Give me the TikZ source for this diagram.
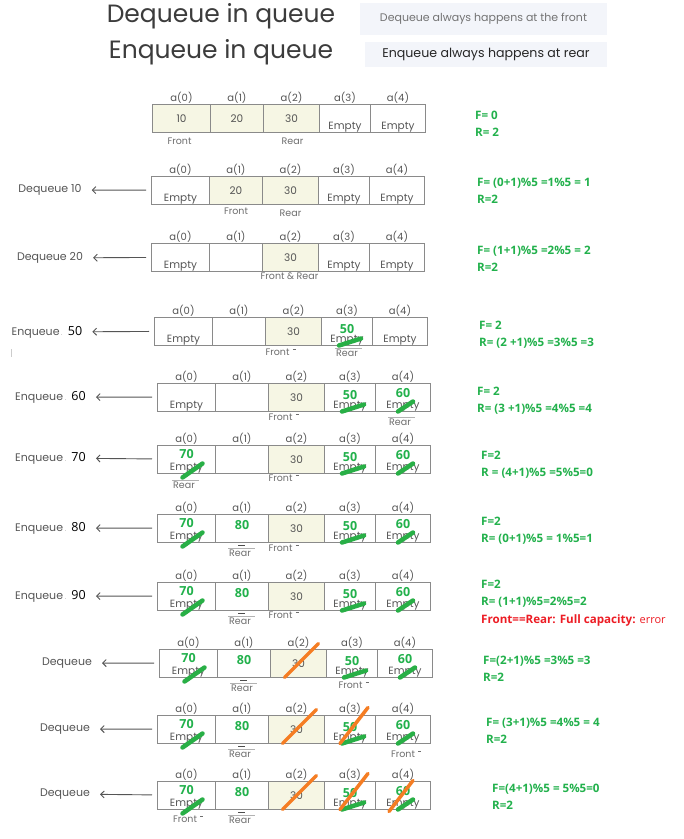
\documentclass[tikz,border=0pt]{standalone}
\usepackage{fontspec}
\setmainfont{Poppins}
\newfontfamily\calcfont{Open Sans}
\usetikzlibrary{positioning,arrows.meta,calc,backgrounds}

\definecolor{calcgreen}{RGB}{34,177,76}
\definecolor{errred}{RGB}{237,28,36}
\definecolor{hlfill}{RGB}{246,246,228}
\definecolor{notefill}{RGB}{243,245,250}
\definecolor{titlegray}{RGB}{60,60,60}
\definecolor{labgray}{RGB}{85,85,85}
\definecolor{taggray}{RGB}{110,110,110}
\definecolor{cellgray}{RGB}{138,138,138}
\definecolor{inkgreen}{RGB}{40,175,70}
\definecolor{inkorange}{RGB}{245,125,35}

\newcommand\opnum[1]{{\calcfont\fontsize{12.5}{14}\selectfont\color{black}#1}}
\newcommand\frontmark{Front\rlap{\hspace{3.5pt}\raisebox{6pt}{\rule{3pt}{0.6pt}}}}

\begin{document}
\begin{tikzpicture}[
  x=1pt, y=-1pt,
  every node/.style={inner sep=0pt},
  cell/.style={draw=cellgray, line width=1pt, minimum height=27.5pt,
               anchor=north west},
  idx/.style={font=\fontsize{10}{12}\selectfont, text=labgray},
  txt/.style={font=\fontsize{10.5}{12}\selectfont, text=labgray, anchor=base},
  val/.style={font=\calcfont\bfseries\fontsize{12.5}{14}\selectfont,
              text=calcgreen, anchor=base},
  tag/.style={font=\fontsize{9.5}{11}\selectfont, text=taggray},
  op/.style={font=\fontsize{11}{13}\selectfont, text=labgray},
  fr/.style={font=\calcfont\bfseries\fontsize{11.6}{17}\selectfont,
             text=calcgreen, align=left, anchor=north west},
  note/.style={fill=notefill, inner sep=0pt},
  arr/.style={{Straight Barb[length=3.5pt,width=7pt]}-, draw=labgray,
              line width=0.9pt, shorten <=10pt, shorten >=5pt},
  ink/.style={draw=inkgreen, line width=4.5pt, line cap=round},
  cross/.style={draw=inkorange, line width=3.5pt, line cap=round},
  bar/.style={draw=gray!60, line width=0.6pt},
  nub/.style={draw=black!70, line width=1pt}
]
\useasboundingbox (0,0) rectangle (684,839);

%% --- Heading -------------------------------------------------
\node[font=\fontsize{25}{30}\selectfont, text=titlegray] (ttl1) at (221,16)
     {Dequeue in queue};
\node[font=\fontsize{25}{30}\selectfont, text=titlegray] (ttl2) at (221,52)
     {Enqueue in queue};
\node[note, minimum width=247pt, minimum height=32pt,
      font=\fontsize{11}{12}\selectfont, text=black!55] (note1) at (483.5,19)
     {Dequeue always happens at the front};
\node[note, minimum width=242pt, minimum height=25pt,
      font=\fontsize{12.6}{14}\selectfont, text=black!85] (note2) at (486,54.5)
     {Enqueue always happens at rear};

%% --- Queue arrays a(0)..a(4) ---------------------------------
\foreach \r/\x/\y in {q1/152/104, q2/151/176, q3/151/243, q4/154/317,
                      q5/157/383, q6/157/445, q7/157/514, q8/157/582,
                      q9/159/649, q10/157/715, q11/157/781} {
  \foreach \i/\dx/\w in {0/0/58, 1/58/53, 2/111/56, 3/167/51, 4/218/55} {
    \node[cell, minimum width=\w pt] (\r-\i) at (\x+\dx,\y) {};
    \node[idx] (\r-i\i) at ([yshift=6.5pt]\r-\i.north) {a(\i)};
  }
}

% occupied slots
\begin{scope}[on background layer]
  \fill[white] (0,0) rectangle (684,839);
  \foreach \c in {q1-0,q1-1,q1-2,q2-1,q2-2,q3-2,q4-2,q5-2,q6-2,
                  q7-2,q8-2,q9-2,q10-2,q11-2}
    \fill[hlfill] (\c.north west) rectangle (\c.south east);
\end{scope}

% cell contents
\foreach \c in {q1-3,q1-4}
  \node[txt] (\c-e) at ([yshift=2.7pt]\c.south) {Empty};
\foreach \r in {2,...,11}
  \foreach \i in {0,3,4}
    \node[txt] (q\r-\i-e) at ([yshift=2.7pt]q\r-\i.south) {Empty};
\foreach \c/\v in {q1-0/10, q1-1/20, q1-2/30, q2-1/20, q2-2/30}
  \node[txt] (\c-v) at ([yshift=-4.5pt]\c.center) {\v};
\foreach \r in {3,...,11}
  \node[txt] (q\r-2-v) at ([yshift=-4.5pt]q\r-2.center) {30};

\foreach \c/\v/\d in {q4-3/50/-2, q5-3/50/-2, q5-4/60/0,
                      q6-0/70/1, q6-3/50/-2, q6-4/60/0}
  \node[val] (\c-n) at ([yshift=\d pt]\c.center) {\v};
\foreach \r in {7,...,11}
  \foreach \i/\v/\d in {0/70/1, 1/80/-1, 3/50/-2, 4/60/0}
    \node[val] (q\r-\i-n) at ([yshift=\d pt]q\r-\i.center) {\v};

% crossed out
\foreach \r in {6,...,11}
  \draw[ink] ([shift={(-4,4)}]q\r-0.south) -- ([shift={(16,-10)}]q\r-0.south);
\foreach \r in {4,...,11}
  \draw[ink] ([shift={(-8,0)}]q\r-3.south) -- ([shift={(14,-7)}]q\r-3.south);
\foreach \r in {5,...,11}
  \draw[ink] ([shift={(-5,0)}]q\r-4.south) -- ([shift={(10,-10)}]q\r-4.south);

\foreach \r in {9,10,11}
  \draw[cross] ([shift={(-14,0)}]q\r-2.south) -- ([shift={(20,-34)}]q\r-2.south);
\foreach \r in {10,11}
  \draw[cross] ([shift={(-10,0)}]q\r-3.south) -- ([shift={(18,-36)}]q\r-3.south);
\draw[cross] ([shift={(-14,2)}]q11-4.south) -- ([shift={(10,-29)}]q11-4.south);

%% --- Front / Rear markers ------------------------------------
\node[tag] (front1) at ([shift={(-2,9)}]q1-0.south) {Front};
\node[tag] (rear1)  at ([shift={(1,9)}]q1-2.south) {Rear};
\node[tag] (front2) at ([shift={(0,7)}]q2-1.south) {Front};
\node[tag] (rear2)  at ([shift={(0,9)}]q2-2.south) {Rear};
\node[tag] (both3)  at ([shift={(-1,5)}]q3-2.south) {Front \&\ Rear};
\node[tag] (front4) at ([shift={(-16,7)}]q4-2.south) {\frontmark};
\node[tag] (rear4)  at ([shift={(0,8)}]q4-3.south) {Rear};
\node[tag] (front5) at ([shift={(-16,6)}]q5-2.south) {\frontmark};
\node[tag] (rear5)  at ([shift={(-3,11)}]q5-4.south) {Rear};
\node[tag] (rear6)  at ([shift={(-2.5,12)}]q6-0.south) {Rear};
\node[tag] (front6) at ([shift={(-16,5)}]q6-2.south) {\frontmark};
\node[tag] (rear7)  at ([shift={(-2,11)}]q7-1.south) {Rear};
\node[tag] (front7) at ([shift={(-16,6)}]q7-2.south) {\frontmark};
\node[tag] (rear8)  at ([shift={(-2,11)}]q8-1.south) {Rear};
\node[tag] (front8) at ([shift={(-16,5)}]q8-2.south) {\frontmark};
\node[tag] (rear9)  at ([shift={(-2,11)}]q9-1.south) {Rear};
\node[tag] (front9) at ([shift={(-1.5,8)}]q9-3.south) {\frontmark};
\node[tag] (rear10) at ([shift={(-2,11)}]q10-1.south) {Rear};
\node[tag] (front10) at ([shift={(0,11)}]q10-4.south) {\frontmark};
\node[tag] (front11) at ([shift={(-1.5,10)}]q11-0.south) {\frontmark};
\node[tag] (rear11) at ([shift={(-2,11)}]q11-1.south) {Rear};

\foreach \t in {rear4,rear5,rear6,rear7,rear8,rear9,rear10,rear11}
  \draw[bar] ([shift={(-12,-5)}]\t.center) -- ([shift={(15,-5)}]\t.center);
\foreach \t in {rear7,rear8,rear9,rear10,rear11}
  \draw[nub] ([shift={(-2,-8)}]\t.center) -- ([shift={(5,-8)}]\t.center);

%% --- Operations on the left ----------------------------------
\node[op] (op2)  at (50,190) {Dequeue 10};
\node[op] (op3)  at (50,258) {Dequeue 20};
\node[op] (op4)  at (47,332)
     {Enqueue\,{\fontsize{5}{6}\selectfont.}\enspace\opnum{50}};
\node[op] (op5)  at (50.5,397)
     {Enqueue\,{\fontsize{5}{6}\selectfont.}\enspace\opnum{60}};
\node[op] (op6)  at (50.5,458)
     {Enqueue\,{\fontsize{5}{6}\selectfont.}\enspace\opnum{70}};
\node[op] (op7)  at (50.5,528)
     {Enqueue\,{\fontsize{5}{6}\selectfont.}\enspace\opnum{80}};
\node[op] (op8)  at (50.5,596)
     {Enqueue\,{\fontsize{5}{6}\selectfont.}\enspace\opnum{90}};
\node[op] (op9)  at (67,663) {Dequeue};
\node[op] (op10) at (65,729) {Dequeue};
\node[op] (op11) at (65,794) {Dequeue};

\foreach \n in {2,...,11}
  \draw[arr] (op\n) -- (q\n-0);

\draw[gray!40, line width=0.6pt] (11,349) -- (11,357);

%% --- Front / rear index arithmetic ---------------------------
\node[fr] (st1)  at (475,110.5) {F= 0\\R= 2};
\node[fr] (st2)  at (477,177.5) {F= (0+1)\%5 =1\%5 = 1\\R=2};
\node[fr] (st3)  at (477,245.5) {F= (1+1)\%5 =2\%5 = 2\\R=2};
\node[fr] (st4)  at (479,320.5) {F= 2\\R= (2 +1)\%5 =3\%5 =3};
\node[fr] (st5)  at (477,386.5) {F= 2\\R= (3 +1)\%5 =4\%5 =4};
\node[fr] (st6)  at (481,450.5) {F=2\\R = (4+1)\%5 =5\%5=0};
\node[fr] (st7)  at (481,516.5) {F=2\\R= (0+1)\%5 = 1\%5=1};
\node[fr] (st8)  at (481,579.5)
     {F=2\\R= (1+1)\%5=2\%5=2\\[1pt]
      \textcolor{errred}{Front==Rear: Full capacity:
      {\mdseries\fontsize{11}{17}\selectfont error}}};
\node[fr] (st9)  at (483,655.5) {F=(2+1)\%5 =3\%5 =3\\R=2};
\node[fr] (st10) at (486,717.5) {F= (3+1)\%5 =4\%5 = 4\\R=2};
\node[fr] (st11) at (492,783.5) {F=(4+1)\%5 = 5\%5=0\\R=2};

\end{tikzpicture}
\end{document}
